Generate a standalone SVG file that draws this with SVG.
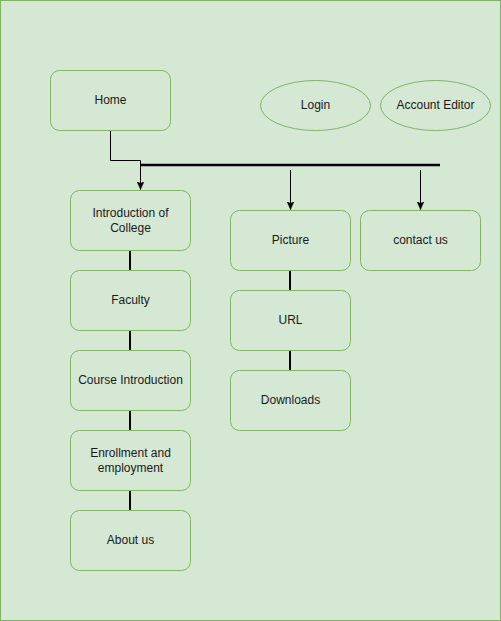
<svg xmlns="http://www.w3.org/2000/svg" width="501" height="621" viewBox="0 0 501 621">
<defs>
<style>
.n{fill:#d5e8d4;stroke:#82b366;stroke-width:1}
.t{font-family:"Liberation Sans",Arial,sans-serif;font-size:12px;fill:#1a1a1a;text-anchor:middle;dominant-baseline:central}
.c{fill:none;stroke:#000;stroke-width:1}
.k{fill:none;stroke:#000;stroke-width:2}
</style>
<marker id="a" markerWidth="10" markerHeight="10" refX="8" refY="4" orient="auto" markerUnits="userSpaceOnUse" viewBox="0 0 10 8">
<path d="M0,0.5 L8,4 L0,7.5 L2,4 Z" fill="#000" stroke="#000" stroke-width="0.5"/>
</marker>
</defs>
<rect x="0.5" y="0.5" width="500" height="620" fill="#d5e8d4" stroke="#82b366"/>
<g id="connectors">
<path class="c" d="M110.5,130.5 V160.5 H140.5 V189.5" marker-end="url(#a)"/>
<path d="M141,165 H440" stroke="#000" stroke-width="2.5" fill="none"/>
<path class="c" d="M290.5,170 V209.5" marker-end="url(#a)"/>
<path class="c" d="M420.5,170 V209.5" marker-end="url(#a)"/>
<path class="k" d="M130,250.5 V270.5"/>
<path class="k" d="M130,330.5 V350.5"/>
<path class="k" d="M130,410.5 V430.5"/>
<path class="k" d="M130,490.5 V510.5"/>
<path class="k" d="M290,270.5 V290.5"/>
<path class="k" d="M290,350.5 V370.5"/>
</g>
<g id="home"><rect class="n" x="50.5" y="70.5" width="120" height="60" rx="9"/><text class="t" x="110.5" y="99.5">Home</text></g>
<g id="login"><ellipse class="n" cx="315.5" cy="105.5" rx="55" ry="25"/><text class="t" x="315.5" y="104.5">Login</text></g>
<g id="account-editor"><ellipse class="n" cx="435.5" cy="105.5" rx="55" ry="25"/><text class="t" x="435.5" y="104.5">Account Editor</text></g>
<g id="intro"><rect class="n" x="70.5" y="190.5" width="120" height="60" rx="9"/><text class="t" x="130.5" y="212.5">Introduction of</text><text class="t" x="130.5" y="227.5">College</text></g>
<g id="faculty"><rect class="n" x="70.5" y="270.5" width="120" height="60" rx="9"/><text class="t" x="130.5" y="299.5">Faculty</text></g>
<g id="course"><rect class="n" x="70.5" y="350.5" width="120" height="60" rx="9"/><text class="t" x="130.5" y="379.5">Course Introduction</text></g>
<g id="enroll"><rect class="n" x="70.5" y="430.5" width="120" height="60" rx="9"/><text class="t" x="130.5" y="452.5">Enrollment and</text><text class="t" x="130.5" y="467.5">employment</text></g>
<g id="about"><rect class="n" x="70.5" y="510.5" width="120" height="60" rx="9"/><text class="t" x="130.5" y="539.5">About us</text></g>
<g id="picture"><rect class="n" x="230.5" y="210.5" width="120" height="60" rx="9"/><text class="t" x="290.5" y="239.5">Picture</text></g>
<g id="url"><rect class="n" x="230.5" y="290.5" width="120" height="60" rx="9"/><text class="t" x="290.5" y="319.5">URL</text></g>
<g id="downloads"><rect class="n" x="230.5" y="370.5" width="120" height="60" rx="9"/><text class="t" x="290.5" y="399.5">Downloads</text></g>
<g id="contact"><rect class="n" x="360.5" y="210.5" width="120" height="60" rx="9"/><text class="t" x="420.5" y="239.5">contact us</text></g>
</svg>
